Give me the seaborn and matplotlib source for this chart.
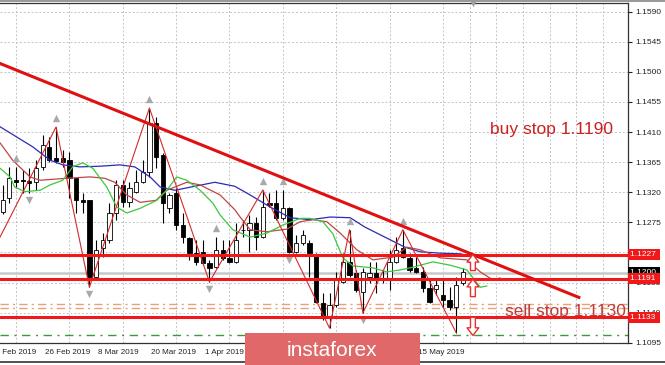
import numpy as np
import matplotlib
matplotlib.use("Agg")
import matplotlib.pyplot as plt
import matplotlib.transforms as mtransforms
from matplotlib.patches import Rectangle
from matplotlib.lines import Line2D
import seaborn as sns

# ---------------- data ----------------
first_bar = -6  # bar index of first candle (26 Feb 2019 = 0)
opens = [1.12905, 1.13115, 1.13384, 1.13380, 1.13370, 1.13354, 1.13578, 1.13877, 1.13710, 1.13710,
         1.13680, 1.13410, 1.13085, 1.13080, 1.11930, 1.12370, 1.12490, 1.12890, 1.13310, 1.13050,
         1.13205, 1.13350, 1.13500, 1.14240, 1.13760, 1.12965, 1.13190, 1.12710, 1.12520, 1.12290,
         1.12310, 1.12140, 1.12080, 1.12340, 1.12220, 1.12160, 1.12640, 1.12636, 1.12740, 1.12530,
         1.13040, 1.13040, 1.12820, 1.12970, 1.12310, 1.12440, 1.12440, 1.12260, 1.11545, 1.11320,
         1.11515, 1.11860, 1.12160, 1.11990, 1.11710, 1.11930, 1.11990, 1.11920, 1.11920, 1.12160,
         1.12370, 1.12220, 1.12070, 1.12010, 1.11770, 1.11750, 1.11665, 1.11590, 1.11485, 1.11840]
highs = [1.13310, 1.13578, 1.13578, 1.13530, 1.13560, 1.13683, 1.14057, 1.14027, 1.14176, 1.13830,
         1.13800, 1.13420, 1.13190, 1.13090, 1.12490, 1.12590, 1.13040, 1.13380, 1.13380, 1.13350,
         1.13530, 1.13683, 1.14460, 1.14330, 1.13790, 1.13190, 1.13260, 1.12890, 1.12530, 1.12490,
         1.12490, 1.12190, 1.12530, 1.12490, 1.12490, 1.12740, 1.12790, 1.12860, 1.12830, 1.13234,
         1.13190, 1.13234, 1.13234, 1.12980, 1.12560, 1.12640, 1.12490, 1.12290, 1.11695, 1.11695,
         1.12010, 1.12290, 1.12640, 1.12040, 1.12070, 1.12160, 1.12160, 1.12040, 1.12340, 1.12530,
         1.12640, 1.12290, 1.12230, 1.12080, 1.11890, 1.11920, 1.11890, 1.11780, 1.11930, 1.12070]
lows = [1.12875, 1.13040, 1.13264, 1.13190, 1.13190, 1.13240, 1.13533, 1.13653, 1.13640, 1.13580,
        1.13115, 1.12890, 1.12890, 1.11780, 1.11890, 1.12230, 1.12440, 1.12790, 1.12980, 1.12980,
        1.13190, 1.13340, 1.13430, 1.13560, 1.12740, 1.12890, 1.12640, 1.12440, 1.12190, 1.12110,
        1.12110, 1.11860, 1.12070, 1.12190, 1.12140, 1.12140, 1.12530, 1.12310, 1.12340, 1.12520,
        1.12980, 1.12790, 1.12790, 1.12290, 1.12290, 1.12410, 1.11930, 1.11545, 1.11290, 1.11170,
        1.11485, 1.11840, 1.11930, 1.11710, 1.11395, 1.11840, 1.11695, 1.11840, 1.11740, 1.12140,
        1.12220, 1.12010, 1.11990, 1.11710, 1.11545, 1.11665, 1.11485, 1.11440, 1.11100, 1.11810]
closes = [1.13085, 1.13414, 1.13360, 1.13375, 1.13340, 1.13563, 1.13907, 1.13683, 1.13670, 1.13650,
          1.13410, 1.13085, 1.13055, 1.11930, 1.12340, 1.12490, 1.12890, 1.13310, 1.13055, 1.13260,
          1.13354, 1.13500, 1.14240, 1.13730, 1.13040, 1.13160, 1.12710, 1.12530, 1.12290, 1.12160,
          1.12140, 1.12070, 1.12340, 1.12220, 1.12160, 1.12490, 1.12630, 1.12740, 1.12530, 1.12980,
          1.13010, 1.12820, 1.12970, 1.12310, 1.12440, 1.12560, 1.12290, 1.11560, 1.11335, 1.11515,
          1.11890, 1.12160, 1.11960, 1.11740, 1.12010, 1.11990, 1.11920, 1.11925, 1.12160, 1.12340,
          1.12230, 1.12040, 1.12010, 1.11770, 1.11560, 1.11810, 1.11590, 1.11485, 1.11810, 1.12010]

# visible date labels (11 Apr, 23 Apr and 3 May lie under the watermark)
date_labels = ["14 Feb 2019", "26 Feb 2019", "8 Mar 2019", "20 Mar 2019", "1 Apr 2019", "15 May 2019"]
date_label_pos = [-8, 0, 8, 16, 24, 56]
date_tick_pos = [0, 8, 16, 24, 32, 40, 48, 56]
price_ticks = [1.1590, 1.1545, 1.1500, 1.1455, 1.1410, 1.1365, 1.1320, 1.1275,
               1.1230, 1.1185, 1.1140, 1.1095]
hidden_tick = 1.1230  # covered by the 1.1227 price box

ma_blue_pos = [-6.4, -1.5, 1.1, 3.0, 5.6, 8.6, 11.6, 13.8, 16.1, 17.6, 19.8, 22.8, 25.8, 28.8,
               31.1, 34.1, 37.1, 40.1, 43.1, 46.1, 48.3, 51.3, 54.3, 56.6, 59.6, 62.6, 65.6, 68.6]
ma_blue = [1.1418, 1.1388, 1.1368, 1.1361, 1.1358, 1.1359, 1.1361, 1.1358, 1.1343, 1.1328, 1.1323,
           1.1329, 1.1335, 1.1329, 1.1316, 1.1298, 1.1282, 1.1279, 1.1283, 1.1282, 1.1268, 1.1253,
           1.1238, 1.1231, 1.1229, 1.1228, 1.1222, 1.1211]
ma_red_pos = [-6.4, -4.5, -1.9, -0.4, 3.6, 7.1, 9.3, 10.8, 12.6, 14.6, 17.0, 18.6, 21.6, 23.6, 26.6,
              28.8, 29.6, 31.1, 33.6, 36.6, 38.6, 40.5, 42.6, 44.6, 47.1, 49.5, 52.5, 54.6, 56.6,
              59.6, 63.6, 65.6, 67.5, 68.6]
ma_red = [1.1394, 1.1368, 1.1343, 1.1338, 1.1341, 1.1343, 1.1341, 1.1335, 1.1316, 1.1305, 1.1308,
          1.1323, 1.1335, 1.1331, 1.1316, 1.1294, 1.1283, 1.1264, 1.1261, 1.1265, 1.1276, 1.1279,
          1.1276, 1.1259, 1.1234, 1.1219, 1.1223, 1.1238, 1.1234, 1.1222, 1.1219, 1.1201, 1.1189,
          1.1192]
ma_green_pos = [-6.4, -4.9, -4.2, -2.7, -0.4, 1.1, 3.0, 4.5, 6.0, 7.5, 9.6, 11.1, 12.6, 14.6, 17.1,
                18.6, 20.1, 21.6, 23.6, 25.5, 26.6, 28.5, 31.1, 33.6, 36.0, 38.6, 40.1, 42.0, 43.5,
                45.0, 46.5, 49.5, 51.6, 53.6, 55.5, 58.5, 61.1, 63.6, 65.6, 66.6]
ma_green = [1.1356, 1.1343, 1.1328, 1.1321, 1.1323, 1.1331, 1.1338, 1.1358, 1.1364, 1.1356, 1.1328,
            1.1298, 1.1289, 1.1296, 1.1308, 1.1323, 1.1343, 1.1338, 1.1323, 1.1304, 1.1286, 1.1264,
            1.1253, 1.1259, 1.1271, 1.1281, 1.1281, 1.1276, 1.1258, 1.1222, 1.1210, 1.1207, 1.1201,
            1.1204, 1.1208, 1.1216, 1.1211, 1.1204, 1.1178, 1.1180]
zigzag_pos = [-9, 2, 7, 16, 25, 33, 43, 46, 48, 54, 62]
zigzag_price = [1.1202, 1.14176, 1.1178, 1.1446, 1.1186, 1.13234, 1.1117, 1.1264, 1.11395, 1.1264, 1.1110]
fractal_up = [-4, 2, 16, 26, 33, 36, 46, 54]
fractal_down = [-2, 7, 25, 37, 48]

levels = [1.1227, 1.1191, 1.1133]
level_labels = ["1.1227", "1.1191", "1.1133"]
bid_price = 1.1200
orange_levels = [1.1153, 1.1147]
green_level = 1.1107
trend_pos = [-7, 80.6]
trend_price = [1.1515, 1.1162]
arrow_bar = 64.5
arrows = [(1.1203, 1.1227), (1.1164, 1.1190), (1.1133, 1.1106)]  # (tail, head)
buy_text = ("buy stop 1.1190", 67.1, 1.1414)
sell_text = ("sell stop 1.1130", 69.3, 1.11415)

# ---------------- figure ----------------
sns.set_style("white")
plt.rcParams["font.family"] = ["Liberation Sans", "DejaVu Sans"]

W, H = 665, 365
fig = plt.figure(figsize=(W / 100, H / 100), dpi=100)
ax = fig.add_axes([0, 22 / H, 628 / W, 340 / H])
ax.set_xlim(-6.40, 87.75)
ax.set_ylim(1.10947, 1.16030)

# grid
ax.set_yticks(price_ticks)
ax.set_yticklabels(["" if p == hidden_tick else f"{p:.4f}" for p in price_ticks])
ax.yaxis.tick_right()
ax.tick_params(axis="y", length=3, width=0.8, labelsize=6, pad=2, colors="#222222")
ax.grid(axis="y", which="major", ls=(0, (2, 2)), color="#c4c4c4", lw=0.7, zorder=0)
ax.set_xticks(np.arange(-4, 88, 4), minor=True)
ax.grid(axis="x", which="minor", ls=(0, (2, 2)), color="#c4c4c4", lw=0.7, zorder=0)
ax.set_xticks(date_tick_pos)
ax.set_xticklabels([])
ax.tick_params(axis="x", which="major", length=3, width=0.8, colors="#222222")
ax.tick_params(axis="x", which="minor", length=0)
ax.set_axisbelow(True)

ax.spines["left"].set_visible(False)
for s in ["right", "bottom", "top"]:
    ax.spines[s].set_color("#333333")
    ax.spines[s].set_linewidth(0.9)

trans_x = mtransforms.blended_transform_factory(ax.transData, ax.transAxes)
trans_y = mtransforms.blended_transform_factory(ax.transAxes, ax.transData)
for lab, p in zip(date_labels, date_label_pos):
    ax.text(p + 0.3, -9 / 340, lab, transform=trans_x, ha="left", va="center",
            fontsize=5.8, color="#222222", clip_on=False)

# dash-dot levels
for lv in orange_levels:
    ax.axhline(lv, color="#e8a27a", lw=1.0, ls=(0, (6, 3, 1.5, 3)), zorder=1.5)
ax.axhline(green_level, color="#3c9a3c", lw=1.0, ls=(0, (6, 4, 1.5, 4)), zorder=1.5)
ax.axhline(bid_price, color="#c8c8c8", lw=1.8, zorder=1.6)

# candles
pos = np.arange(first_bar, first_bar + len(opens))
o = np.array(opens); c = np.array(closes)
ax.vlines(pos, lows, highs, color="black", lw=0.8, zorder=2)
fill = ["white" if cc >= oo else "black" for oo, cc in zip(o, c)]
body = np.maximum(np.abs(c - o), 0.00004)
ax.bar(pos, body, bottom=np.minimum(o, c), width=0.64, color=fill,
       edgecolor="black", linewidth=0.6, zorder=2.2)

# moving averages and zigzag
sns.lineplot(x=ma_blue_pos, y=ma_blue, ax=ax, color="#2a2ab8", lw=0.9, zorder=3, estimator=None)
sns.lineplot(x=ma_red_pos, y=ma_red, ax=ax, color="#c04545", lw=0.9, zorder=3, estimator=None)
sns.lineplot(x=ma_green_pos, y=ma_green, ax=ax, color="#3cc83c", lw=0.9, zorder=3, estimator=None)
sns.lineplot(x=zigzag_pos, y=zigzag_price, ax=ax, color="#d42a2a", lw=0.8, zorder=3.1, estimator=None)

# fractals
hi = dict(zip(pos, highs)); lo = dict(zip(pos, lows))
up_t = ax.transData + mtransforms.ScaledTranslation(0, 9 / 100, fig.dpi_scale_trans)
dn_t = ax.transData + mtransforms.ScaledTranslation(0, -7 / 100, fig.dpi_scale_trans)
ax.scatter(fractal_up, [hi[i] for i in fractal_up], marker="^", s=28, color="#a9a9a9",
           transform=up_t, zorder=3.2, linewidths=0)
ax.scatter(fractal_down, [lo[i] for i in fractal_down], marker="v", s=28, color="#a9a9a9",
           transform=dn_t, zorder=3.2, linewidths=0)
ax.scatter([arrow_bar], [1.0], marker="v", s=30, color="#a0a0a0", transform=trans_x,
           clip_on=False, zorder=5, linewidths=0)

# levels and trendline
for lv in levels:
    ax.axhline(lv, color="#f01818", lw=2.2, zorder=4)
ax.plot(trend_pos, trend_price, color="#e01010", lw=2.2, zorder=4, solid_capstyle="butt")

# hollow arrows
for tail, head in arrows:
    ax.annotate("", xy=(arrow_bar, head), xytext=(arrow_bar, tail),
                arrowprops=dict(arrowstyle="simple,head_length=0.55,head_width=0.85,tail_width=0.35",
                                fc="white", ec="#e83030", lw=1.0, mutation_scale=10,
                                shrinkA=0, shrinkB=0), zorder=4.5)

# annotations
ax.text(buy_text[1], buy_text[2], buy_text[0], color="#cc2020", fontsize=12.5,
        ha="left", va="center", zorder=5)
ax.text(sell_text[1], sell_text[2], sell_text[0], color="#c03a3a", fontsize=12.5,
        ha="left", va="center", zorder=5, clip_on=False)

# right-axis price boxes
ax.text(1.003, bid_price, "1.1200 ", transform=trans_y, ha="left", va="center", fontsize=6,
        color="white", clip_on=False, zorder=6,
        bbox=dict(boxstyle="square,pad=0.2", fc="black", ec="none"))
for lv, lab in zip(levels, level_labels):
    ax.text(1.003, lv, lab + " ", transform=trans_y, ha="left", va="center", fontsize=6,
            color="white", clip_on=False, zorder=7,
            bbox=dict(boxstyle="square,pad=0.25", fc="#f01818", ec="none"))

# frame decorations
fig.add_artist(Line2D([0, 1], [3 / H, 3 / H], color="#333333", lw=1.2, transform=fig.transFigure))
fig.add_artist(Rectangle((0, 1 - 2 / H), 1, 2 / H, transform=fig.transFigure, fc="#9a9a9a", ec="none"))

# watermark
fig.add_artist(Rectangle((245 / W, 0), 175 / W, 32 / H, transform=fig.transFigure,
                         fc="#e06868", ec="none", zorder=10))
fig.text(332 / W, 15 / H, "instaforex", color="white", fontsize=15, ha="center", va="center",
         zorder=11)

fig.savefig("out.png", dpi=100)
